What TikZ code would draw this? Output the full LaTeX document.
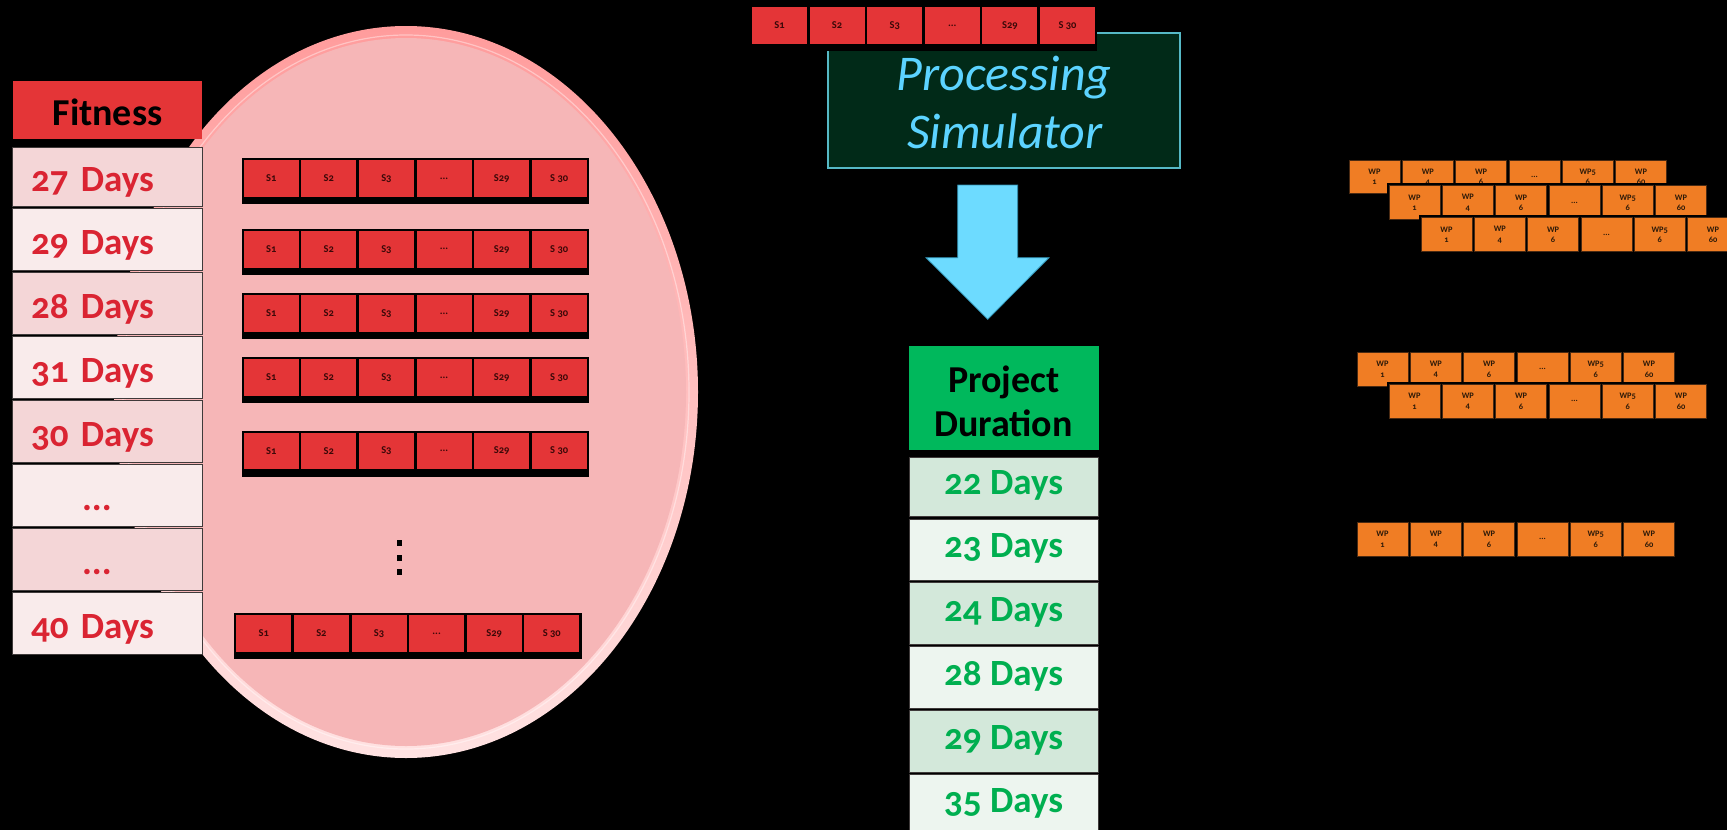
\documentclass[tikz,border=0pt]{standalone}
\usepackage{fontspec}
\setmainfont{Carlito}[Numbers=OldStyle]
\usetikzlibrary{shapes.geometric}

\definecolor{fithead}{HTML}{E43537}
\definecolor{fitdark}{HTML}{F4D6D7}
\definecolor{fitlight}{HTML}{F9EBEB}
\definecolor{fittext}{HTML}{DA2432}
\definecolor{rimtop}{HTML}{FF9C9C}
\definecolor{rimbot}{HTML}{FFE2E2}
\definecolor{popfill}{HTML}{F6B6B7}
\definecolor{sred}{HTML}{E43537}
\definecolor{stext}{HTML}{3A0808}
\definecolor{simfill}{HTML}{012A18}
\definecolor{simline}{HTML}{56B9C6}
\definecolor{simtext}{HTML}{5CD3FF}
\definecolor{arrowfill}{HTML}{6DDBFF}
\definecolor{arrowline}{HTML}{2F8FB0}
\definecolor{pdhead}{HTML}{00B85C}
\definecolor{pddark}{HTML}{D3E8DA}
\definecolor{pdlight}{HTML}{EDF5EF}
\definecolor{pdtext}{HTML}{00AF50}
\definecolor{wporange}{HTML}{F07D24}
\definecolor{wpline}{HTML}{4A2A12}
\definecolor{wptext}{HTML}{2E1A08}
\definecolor{rowline}{HTML}{3F3A3A}

\newcommand\tdots{...}

% one chromosome: six red gene cells on a black strip
\newcommand\chromrow[3]{%
  \node[chrombg] (#1) at (#2,#3) {};
  \foreach \lab [count=\i from 0] in {S1,S2,S3,\tdots,S29,S 30}{%
    \pgfmathsetmacro\cx{#2+2+\i*57.6}%
    \pgfmathsetmacro\cy{#3+2}%
    \node[scell] (#1-\i) at (\cx,\cy) {\lab};
  }%
}

% one row of orange work-package cells
\newcommand\wprow[3]{%
  \pgfmathsetmacro\bx{#2-2.5}\pgfmathsetmacro\by{#3-2.5}%
  \node[wpbg] (#1) at (\bx,\by) {};
  \foreach \lab [count=\i from 0] in {WP\\1,WP\\4,WP\\6,\tdots,WP5\\6,WP\\60}{%
    \pgfmathsetmacro\cx{#2+\i*53.3}%
    \node[wpcell] (#1-\i) at (\cx,#3) {\lab};
  }%
}

\begin{document}
\begin{tikzpicture}[x=1pt,y=-1pt,
  chrombg/.style={anchor=north west, minimum width=347.3pt, minimum height=46pt, fill=black, inner sep=0pt, outer sep=0pt},
  scell/.style={anchor=north west, minimum width=55pt, minimum height=36.5pt, fill=sred, inner sep=0pt, outer sep=0pt,
    text=stext, font=\fontsize{10.5}{12}\selectfont\bfseries},
  wpbg/.style={anchor=north west, minimum width=322.5pt, minimum height=38.7pt, fill=black, inner sep=0pt, outer sep=0pt},
  wpcell/.style={anchor=north west, minimum width=51pt, minimum height=33.7pt, fill=wporange, draw=wpline, line width=0.8pt,
    inner sep=0pt, outer sep=0pt, align=center, text=wptext, font=\fontsize{8.4}{10.3}\selectfont\bfseries},
  frow/.style={anchor=north west, minimum width=189.3pt, inner sep=0pt, outer sep=0pt, text width=152.7pt, align=left,
    text height=31pt, text depth=1pt, draw=rowline, line width=0.8pt, text=fittext,
    font=\fontsize{37}{40}\selectfont\bfseries},
  prow/.style={anchor=north west, minimum width=189.3pt, inner sep=0pt, outer sep=0pt, align=center,
    text height=24pt, text depth=8pt, draw=rowline, line width=0.8pt, text=pdtext,
    font=\fontsize{37}{40}\selectfont\bfseries},
  headtxt/.style={anchor=base, inner sep=0pt, text=black, font=\fontsize{38}{44}\selectfont\bfseries},
  simtxt/.style={anchor=base, inner sep=0pt, text=simtext, font=\fontsize{50}{58}\selectfont\itshape},
  vdot/.style={rectangle, fill=black, minimum width=5pt, minimum height=6pt, inner sep=0pt}
]
\useasboundingbox[fill=black] (0,0) rectangle (1727,830);

% population ellipse with its pale rim
\node[ellipse, minimum width=584pt, minimum height=732pt, inner sep=0pt, top color=rimtop, bottom color=rimbot] (rim) at (406,392) {};
\node[ellipse, minimum width=560pt, minimum height=708pt, inner sep=0pt, fill=popfill] (pop) at (406,392) {};
\draw[white, opacity=.4, line width=1.2pt] (406,392) ellipse [x radius=283, y radius=357];

% chromosomes inside the population
\chromrow{c1}{241.7}{158.3}
\chromrow{c2}{241.7}{229}
\chromrow{c3}{241.7}{293.3}
\chromrow{c4}{241.7}{357.2}
\chromrow{c5}{241.7}{430.5}
\chromrow{c6}{234.3}{613.3}
\node[vdot] (vd1) at (399,543) {};
\node[vdot] (vd2) at (399,557.5) {};
\node[vdot] (vd3) at (399,572) {};

% fitness column
\node[anchor=north west, minimum width=189.3pt, minimum height=58.3pt, inner sep=0pt, fill=fithead] (fit) at (12.7,80.7) {};
\node[headtxt] (fittxt) at (107.5,125) {Fitness};
\foreach \t/\b/\lab/\c [count=\i] in {147/206/27 Days/fitdark, 208.5/270/29 Days/fitlight, 272/334/28 Days/fitdark,
    336/398/31 Days/fitlight, 400/462.3/30 Days/fitdark, 464.3/526/\hspace*{51pt}\tdots/fitlight,
    528.3/590.3/\hspace*{51pt}\tdots/fitdark, 592.7/654.3/40 Days/fitlight}{%
  \pgfmathsetmacro\h{\b-\t}%
  \node[frow, fill=\c, minimum height=\h pt] (fit\i) at (12.7,\t) {\lab};
}

% processing simulator with the chromosome being evaluated
\node[anchor=north west, minimum width=352pt, minimum height=135pt, inner sep=0pt, fill=simfill, draw=simline, line width=1.2pt] (sim) at (827.3,32.3) {};
\chromrow{ct}{750}{5.3}
\node[simtxt] (simA) at (1004,90) {Processing};
\node[simtxt] (simB) at (1005,148) {Simulator};

% block arrow down to the results
\draw[fill=arrowfill, draw=arrowline, line width=0.8pt]
  (957.7,185) -- (1017.7,185) -- (1017.7,257.7) -- (1049,257.7) -- (987.7,319.3) -- (926,257.7) -- (957.7,257.7) -- cycle;

% project duration column
\node[anchor=north west, minimum width=189.3pt, minimum height=103.3pt, inner sep=0pt, fill=pdhead] (pd) at (909,346) {};
\node[headtxt] (pdA) at (1004,392.3) {Project};
\node[headtxt] (pdB) at (1003.5,436) {Duration};
\foreach \t/\b/\lab/\c [count=\i] in {457.7/516/22 Days/pddark, 519.3/580/23 Days/pdlight, 582.6/644/24 Days/pddark,
    646.5/708/28 Days/pdlight, 710/772/29 Days/pddark, 774.7/834/35 Days/pdlight}{%
  \pgfmathsetmacro\h{\b-\t}%
  \node[prow, fill=\c, minimum height=\h pt] (pd\i) at (909,\t) {\lab};
}

% work-package schedules
\wprow{wa}{1349}{160}
\wprow{wb}{1389}{185.7}
\wprow{wc}{1421}{217.7}
\wprow{wd}{1357}{352.3}
\wprow{we}{1389}{384.3}
\wprow{wf}{1357}{522.3}
\end{tikzpicture}
\end{document}
